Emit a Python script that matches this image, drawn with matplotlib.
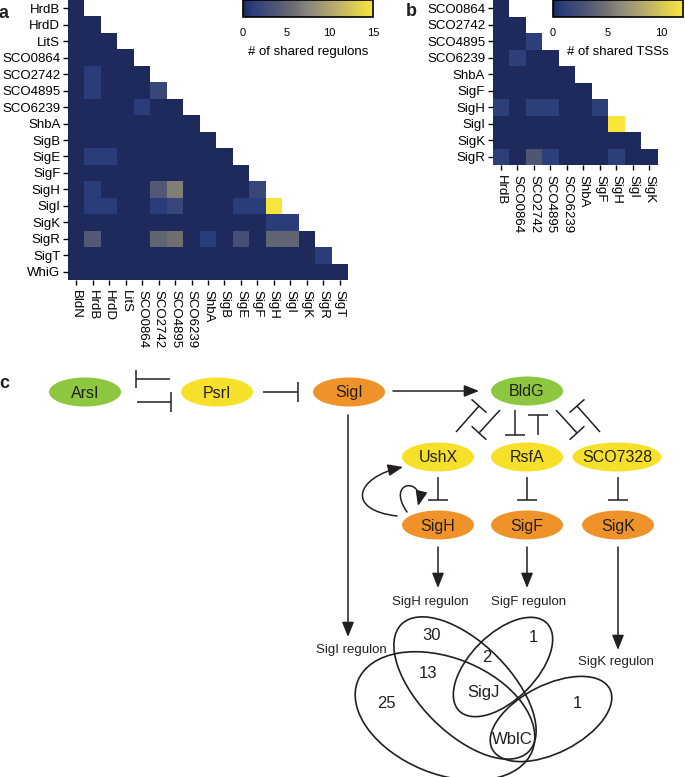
import numpy as np
import matplotlib
matplotlib.use('Agg')
import matplotlib.pyplot as plt
from matplotlib.colors import LinearSegmentedColormap
from matplotlib.patches import Ellipse, FancyArrowPatch
from matplotlib.path import Path

plt.rcParams['font.family'] = ['Liberation Sans', 'DejaVu Sans']
plt.rcParams['text.color'] = '#231f20'

# ---- panel a: shared regulons (lower triangle, row by row) ----
rows_a = ['HrdB', 'HrdD', 'LitS', 'SCO0864', 'SCO2742', 'SCO4895', 'SCO6239',
          'ShbA', 'SigB', 'SigE', 'SigF', 'SigH', 'SigI', 'SigK', 'SigR', 'SigT', 'WhiG']
cols_a = ['BldN', 'HrdB', 'HrdD', 'LitS', 'SCO0864', 'SCO2742', 'SCO4895', 'SCO6239',
          'ShbA', 'SigB', 'SigE', 'SigF', 'SigH', 'SigI', 'SigK', 'SigR', 'SigT']
shared_regulons = [
    [0],
    [0, 0],
    [0, 0, 0],
    [0, 0, 0, 0],
    [0, 1, 0, 0, 0],
    [0, 1, 0, 0, 0, 2],
    [0, 0, 0, 0, 1, 0, 0],
    [0, 0, 0, 0, 0, 0, 0, 0],
    [0, 0, 0, 0, 0, 0, 0, 0, 0],
    [0, 1, 1, 0, 0, 0, 0, 0, 0, 0],
    [0, 0, 0, 0, 0, 0, 0, 0, 0, 0, 0],
    [0, 1, 0, 0, 0, 4, 7, 0, 0, 0, 0, 2],
    [0, 1, 1, 0, 0, 1, 2, 0, 0, 0, 1, 1, 15],
    [0, 0, 0, 0, 0, 0, 0, 0, 0, 0, 0, 0, 1, 1],
    [0, 4, 0, 0, 0, 5, 6, 0, 1, 0, 3, 0, 5, 5, 0],
    [0, 0, 0, 0, 0, 0, 0, 0, 0, 0, 0, 0, 0, 0, 0, 1],
    [0, 0, 0, 0, 0, 0, 0, 0, 0, 0, 0, 0, 0, 0, 0, 0, 0],
]

# ---- panel b: shared TSSs ----
rows_b = ['SCO0864', 'SCO2742', 'SCO4895', 'SCO6239', 'ShbA', 'SigF', 'SigH', 'SigI', 'SigK', 'SigR']
cols_b = ['HrdB', 'SCO0864', 'SCO2742', 'SCO4895', 'SCO6239', 'ShbA', 'SigF', 'SigH', 'SigI', 'SigK']
shared_tss = [
    [0],
    [0, 0],
    [0, 0, 1],
    [0, 1, 0, 0],
    [0, 0, 0, 0, 0],
    [0, 0, 0, 0, 0, 0],
    [1, 0, 1, 1, 0, 0, 1],
    [0, 0, 0, 0, 0, 0, 0, 12],
    [0, 0, 0, 0, 0, 0, 0, 0, 0],
    [1, 0, 3, 1, 0, 0, 0, 1, 0, 0],
]

# ---- panel c: venn counts ----
venn_labels = ['30', '1', '2', '13', 'SigJ', '25', '1', 'WblC']

W, H = 685, 777
fig = plt.figure(figsize=(W / 100, H / 100), dpi=100)


def px_axes(x, y, w, h):
    return fig.add_axes([x / W, 1 - (y + h) / H, w / W, h / H])


cmap = LinearSegmentedColormap.from_list('civ', [
    (0.0, '#1e2a5c'), (0.07, '#2b3d7a'), (0.25, '#4f5674'), (0.4, '#6f6f72'),
    (0.52, '#8d8a7a'), (0.7, '#b6aa6c'), (0.86, '#dccb53'), (1.0, '#f8e43a')])


def tri_matrix(rows):
    n = len(rows)
    m = np.full((n, max(len(r) for r in rows)), np.nan)
    for i, r in enumerate(rows):
        m[i, :len(r)] = r
    return np.ma.masked_invalid(m)


def heatmap(ax, data, rlab, clab, vmax):
    m = tri_matrix(data)
    mesh = ax.pcolormesh(m, cmap=cmap, vmin=0, vmax=vmax)
    ax.set_xlim(0, len(clab))
    ax.set_ylim(len(rlab), 0)
    ax.set_xticks(np.arange(len(clab)) + 0.5)
    ax.set_xticklabels(clab, rotation=270, fontsize=9.5)
    ax.set_yticks(np.arange(len(rlab)) + 0.5)
    ax.set_yticklabels(rlab, fontsize=9.5)
    ax.tick_params(length=3.5, width=1, pad=2)
    ax.tick_params(axis='x', pad=4)
    for s in ax.spines.values():
        s.set_visible(False)
    return mesh


def cbar(mesh, x, label, ticks):
    cax = px_axes(x, 0, 130, 17)
    cb = fig.colorbar(mesh, cax=cax, orientation='horizontal', ticks=ticks)
    cb.outline.set_linewidth(1.2)
    cax.tick_params(length=0, pad=8, labelsize=8)
    cb.set_label(label, fontsize=9.5, labelpad=6)


# diagram axes (pixel coordinates)
axc = fig.add_axes([0, 0, 1, 1])
axc.set_xlim(0, W)
axc.set_ylim(H, 0)
axc.axis('off')

ax_a = px_axes(68, 0, 280, 280)
mesh_a = heatmap(ax_a, shared_regulons, rows_a, cols_a, 15)
cbar(mesh_a, 243, '# of shared regulons', [0, 5, 10, 15])

ax_b = px_axes(492.7, 0, 165, 165)
mesh_b = heatmap(ax_b, shared_tss, rows_b, cols_b, 12)
cbar(mesh_b, 553, '# of shared TSSs', [0, 5, 10])

for lab, (x, y) in zip('abc', [(4, 13), (411, 12), (4, 383)]):
    axc.text(x, y, lab, fontsize=13, fontweight='bold', ha='center', va='center')

GREEN, YELLOW, ORANGE = '#8dc63f', '#f6e02a', '#f0922a'
LW = 1.1


def node(x, y, txt, color, w=72):
    axc.add_patch(Ellipse((x, y), w, 29, facecolor=color, edgecolor='none'))
    axc.text(x, y + 1, txt, ha='center', va='center', fontsize=11.5)


def inhibit(x0, y0, x1, y1, bar=20):
    axc.plot([x0, x1], [y0, y1], color='#231f20', lw=LW, solid_capstyle='butt')
    dx, dy = x1 - x0, y1 - y0
    L = np.hypot(dx, dy)
    px, py = -dy / L * bar / 2, dx / L * bar / 2
    axc.plot([x1 - px, x1 + px], [y1 - py, y1 + py], color='#231f20', lw=LW,
             solid_capstyle='butt')


AST = '-|>,head_length=0.9,head_width=0.36'


def arrow(x0, y0, x1, y1):
    axc.add_patch(FancyArrowPatch((x0, y0), (x1, y1), arrowstyle=AST, mutation_scale=10,
                                  color='#231f20', lw=LW, shrinkA=0, shrinkB=0))


def curve(pts):
    p = Path(pts, [Path.MOVETO, Path.CURVE4, Path.CURVE4, Path.CURVE4])
    axc.add_patch(FancyArrowPatch(path=p, arrowstyle=AST, mutation_scale=10,
                                  color='#231f20', lw=LW, shrinkA=0, shrinkB=0))


node(85, 392, 'ArsI', GREEN)
node(217, 392, 'PsrI', YELLOW)
node(349, 392, 'SigI', ORANGE)
node(527, 391, 'BldG', GREEN)
node(438, 457, 'UshX', YELLOW)
node(527, 457, 'RsfA', YELLOW)
node(617, 457, 'SCO7328', YELLOW, w=89)
node(438, 525, 'SigH', ORANGE)
node(527, 525, 'SigF', ORANGE)
node(618, 525, 'SigK', ORANGE)

inhibit(170, 379, 136, 379, bar=18)
inhibit(137, 402, 171, 402)
inhibit(263, 392, 298, 392)
arrow(393, 391, 479, 391)
arrow(348, 415, 348, 637)

inhibit(456, 432, 479, 406)
inhibit(500, 410, 479, 433)
inhibit(515, 410, 515, 435)
inhibit(538, 435, 538, 415)
inhibit(600, 432, 577, 406)
inhibit(556, 410, 577, 433)

for x in (438, 527, 618):
    inhibit(x, 477, x, 500)
arrow(438, 547, 438, 588)
arrow(527, 547, 527, 588)
arrow(618, 547, 618, 650)

curve([(397, 516), (345, 510), (356, 477), (403, 467)])
curve([(407, 512), (385, 480), (425, 477), (418, 506)])

for txt, (x, y) in zip(['SigH regulon', 'SigF regulon', 'SigI regulon', 'SigK regulon'],
                       [(430, 602), (529, 602), (351, 650), (616, 662)]):
    axc.text(x, y, txt, ha='center', va='center', fontsize=9.5)

for (cx, cy), w, h, ang in [((445, 716), 188, 116, 22), ((465, 688), 180, 90, 45),
                            ((503, 667), 124, 66, -45), ((551, 719), 132, 68, -27)]:
    axc.add_patch(Ellipse((cx, cy), w, h, angle=ang, facecolor='none',
                          edgecolor='#231f20', lw=1.2))

venn_pos = [(432, 635), (533, 638), (487, 657), (428, 673), (483, 693), (386, 703),
            (577, 703), (512, 740)]
for txt, (x, y) in zip(venn_labels, venn_pos):
    axc.text(x, y, txt, ha='center', va='center', fontsize=12)

fig.savefig('out.png', dpi=100)
